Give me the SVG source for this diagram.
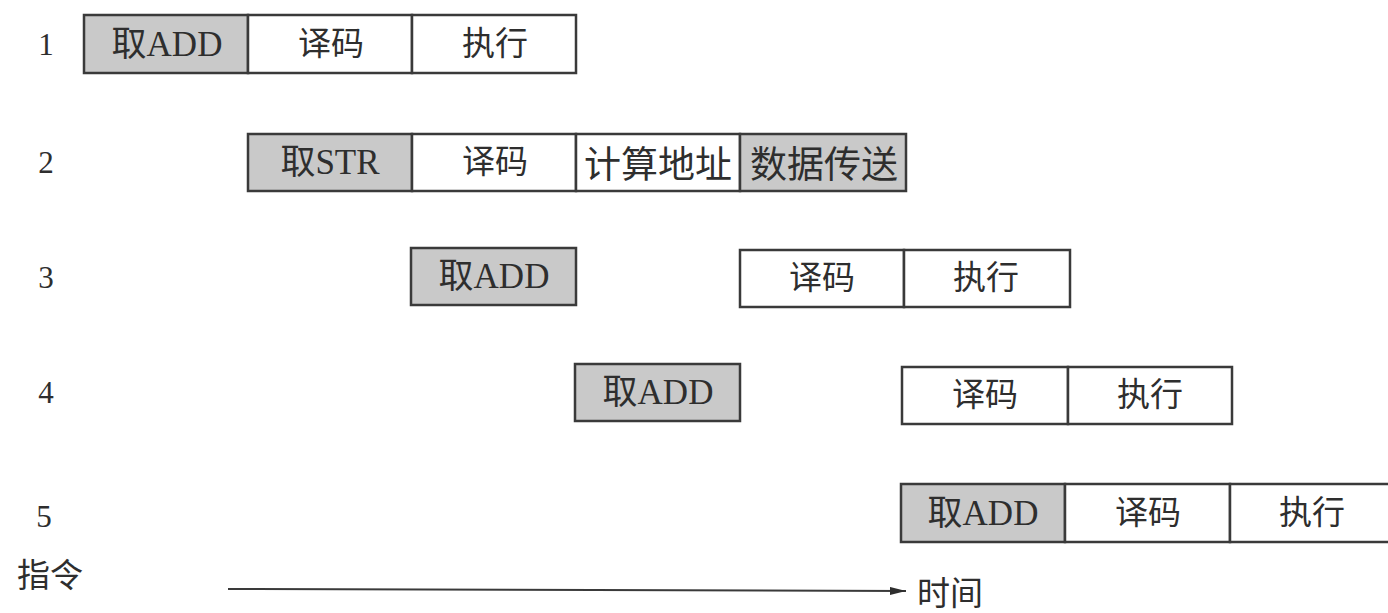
<svg xmlns="http://www.w3.org/2000/svg" width="1388" height="613" viewBox="0 0 1388 613">
<defs>
<style>
.g{fill:#c9c9c9;stroke:#3a3a3a;stroke-width:2.5}
.w{fill:#ffffff;stroke:#3a3a3a;stroke-width:2.5}
.t{font-family:"Liberation Serif","Noto Sans CJK SC",serif;font-size:33px;fill:#2e2e2e;text-anchor:middle;dominant-baseline:central}
.f{font-family:"Liberation Serif","Noto Sans CJK SC",serif;font-size:35px;fill:#2e2e2e;text-anchor:middle;dominant-baseline:central}
.c4{font-family:"Noto Sans CJK SC",sans-serif;font-size:37px;fill:#2e2e2e;text-anchor:middle;dominant-baseline:central}
.n{font-family:"Liberation Serif",serif;font-size:31px;fill:#2e2e2e;text-anchor:middle;dominant-baseline:central}
</style>
<marker id="ah" viewBox="0 0 16 8" refX="16" refY="4" markerWidth="16" markerHeight="8" markerUnits="userSpaceOnUse" orient="auto">
<path d="M0,0 L16,4 L0,8 Z" fill="#2e2e2e"/>
</marker>
</defs>
<rect width="1388" height="613" fill="#ffffff"/>

<g id="labels">
<text class="n" x="46" y="44">1</text>
<text class="n" x="46" y="162">2</text>
<text class="n" x="46" y="277">3</text>
<text class="n" x="46" y="392">4</text>
<text class="n" x="44" y="516">5</text>
<text class="t" x="50" y="576">指令</text>
<text class="t" x="950" y="594">时间</text>
</g>

<g id="row1">
<g id="r1-fetch"><rect class="g" x="84" y="15" width="164" height="58"/><text class="f" x="167" y="44">取ADD</text></g>
<g id="r1-decode"><rect class="w" x="248" y="15" width="164" height="58"/><text class="t" x="331" y="44">译码</text></g>
<g id="r1-exec"><rect class="w" x="412" y="15" width="164" height="58"/><text class="t" x="495" y="44">执行</text></g>
</g>

<g id="row2">
<g id="r2-fetch"><rect class="g" x="248" y="134" width="164" height="57"/><text class="f" x="330" y="162">取STR</text></g>
<g id="r2-decode"><rect class="w" x="412" y="134" width="164" height="57"/><text class="t" x="495" y="162">译码</text></g>
<g id="r2-addr"><rect class="w" x="576" y="134" width="164" height="57"/><text class="c4" x="658" y="162">计算地址</text></g>
<g id="r2-xfer"><rect class="g" x="740" y="134" width="166" height="57"/><text class="c4" x="824" y="162">数据传送</text></g>
</g>

<g id="row3">
<g id="r3-fetch"><rect class="g" x="411" y="248" width="165" height="57"/><text class="f" x="494" y="276">取ADD</text></g>
<g id="r3-decode"><rect class="w" x="740" y="250" width="164" height="57"/><text class="t" x="822" y="278">译码</text></g>
<g id="r3-exec"><rect class="w" x="904" y="250" width="166" height="57"/><text class="t" x="986" y="278">执行</text></g>
</g>

<g id="row4">
<g id="r4-fetch"><rect class="g" x="575" y="364" width="165" height="57"/><text class="f" x="658" y="392">取ADD</text></g>
<g id="r4-decode"><rect class="w" x="902" y="367" width="166" height="57"/><text class="t" x="985" y="395">译码</text></g>
<g id="r4-exec"><rect class="w" x="1068" y="367" width="164" height="57"/><text class="t" x="1150" y="395">执行</text></g>
</g>

<g id="row5">
<g id="r5-fetch"><rect class="g" x="901" y="484" width="164" height="58"/><text class="f" x="983" y="513">取ADD</text></g>
<g id="r5-decode"><rect class="w" x="1065" y="484" width="165" height="58"/><text class="t" x="1148" y="513">译码</text></g>
<g id="r5-exec"><rect class="w" x="1230" y="484" width="170" height="58"/><text class="t" x="1312" y="513">执行</text></g>
</g>

<g id="connectors">
<line x1="228" y1="589" x2="906" y2="591" stroke="#3a3a3a" stroke-width="2" marker-end="url(#ah)"/>
</g>
</svg>
